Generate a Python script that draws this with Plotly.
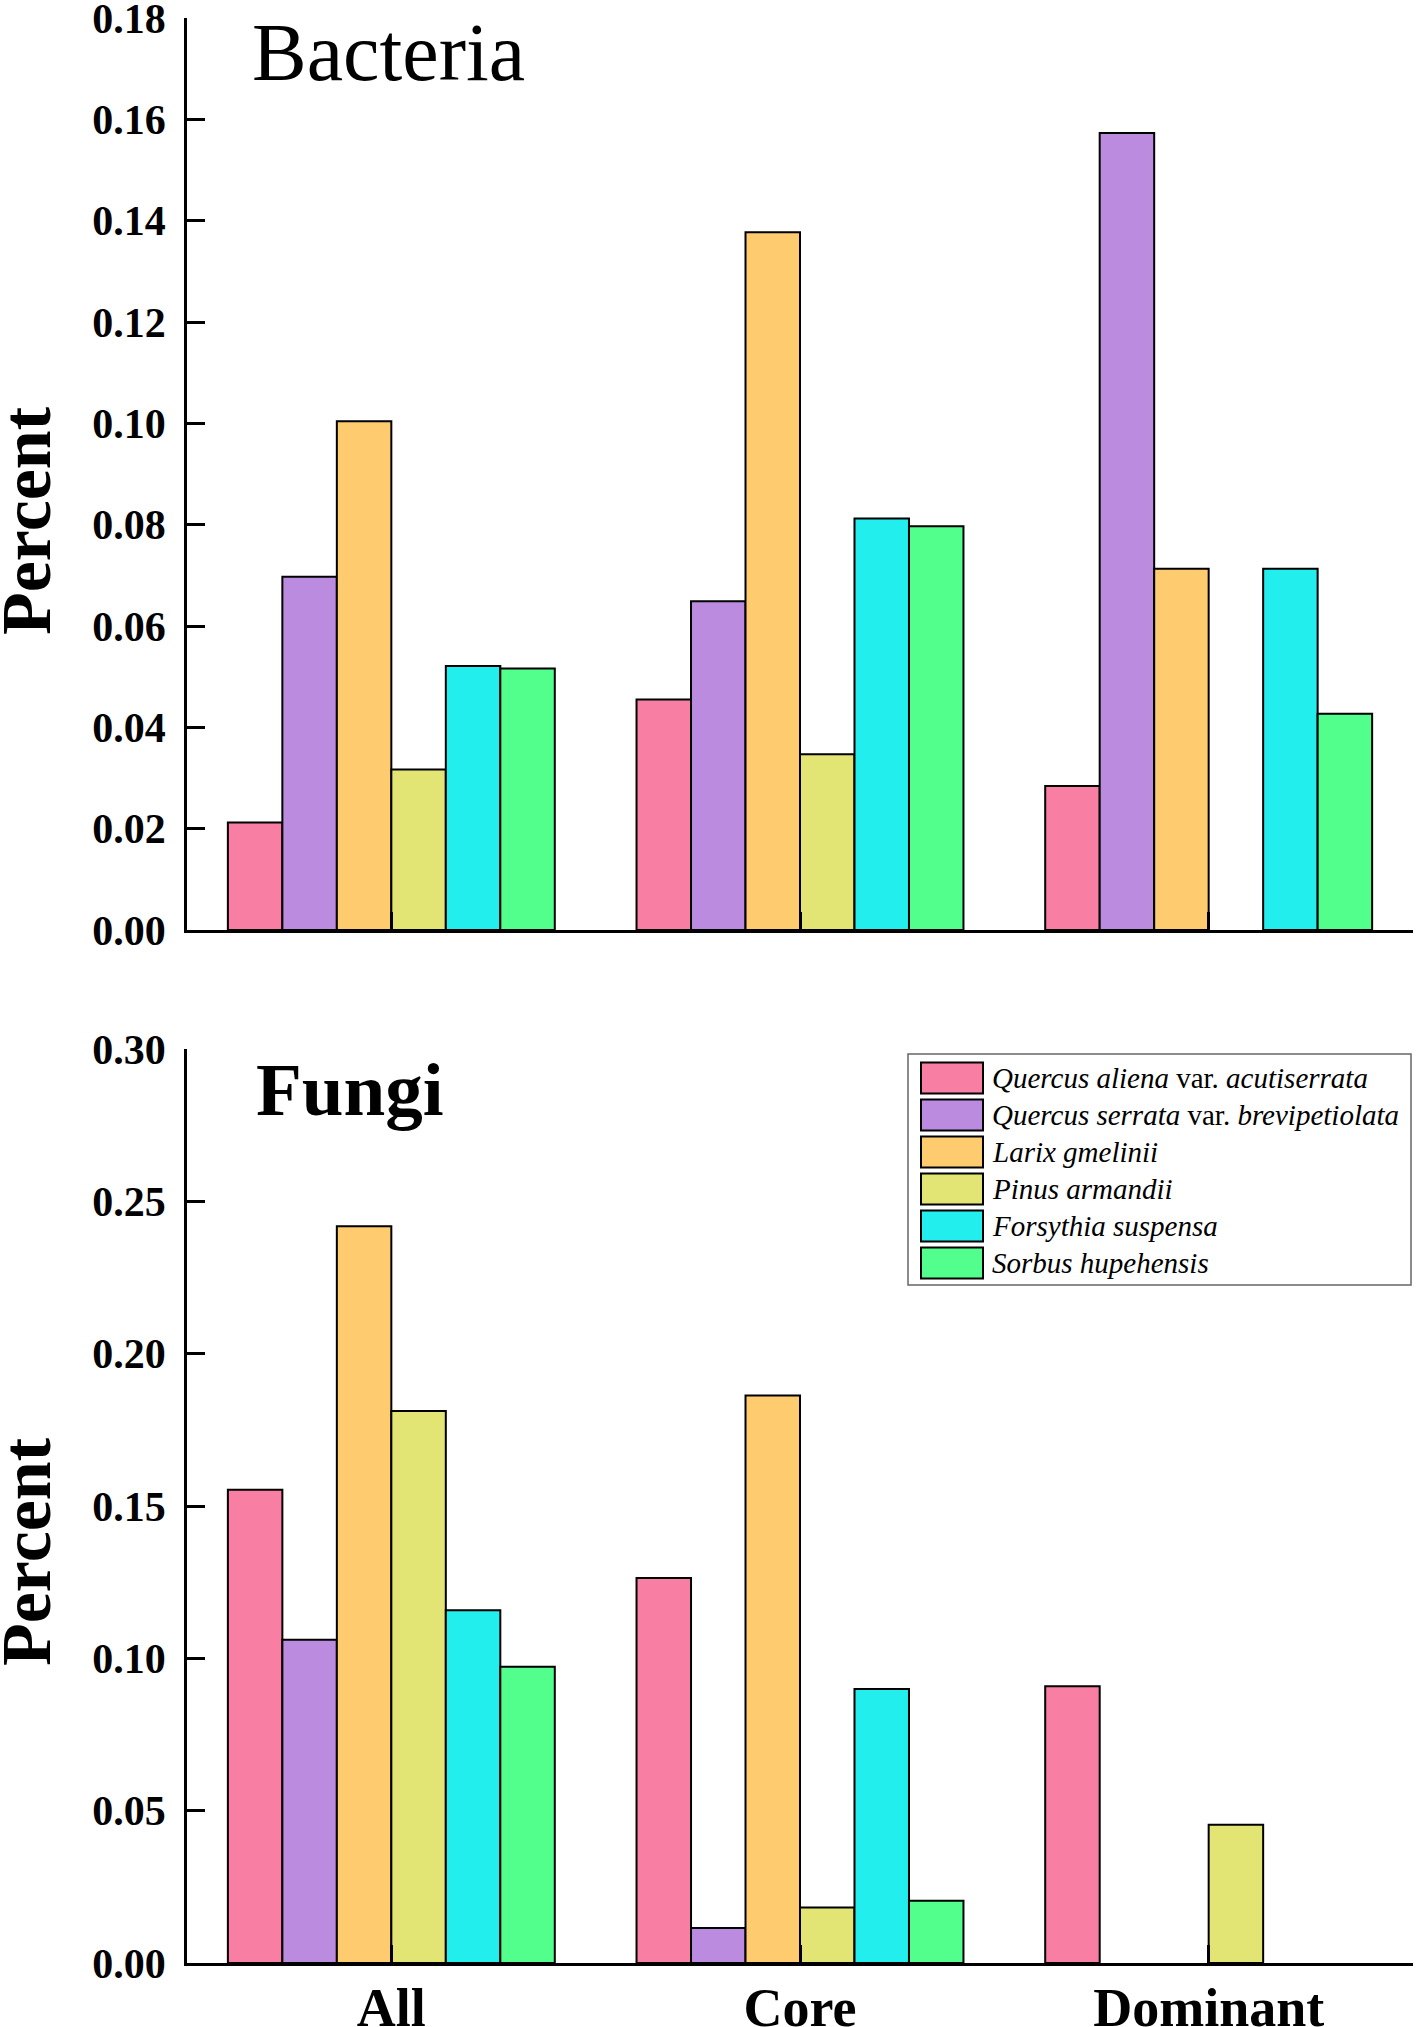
import plotly.graph_objects as go

categories = ["All", "Core", "Dominant"]
species_labels = [
    "<i>Quercus aliena</i> var. <i>acutiserrata</i>",
    "<i>Quercus serrata</i> var. <i>brevipetiolata</i>",
    "<i>Larix gmelinii</i>",
    "<i>Pinus armandii</i>",
    "<i>Forsythia suspensa</i>",
    "<i>Sorbus hupehensis</i>",
]
colors = ["#F87EA4", "#BB8BE0", "#FECB6E", "#E2E473", "#22EEEE", "#52FF8D"]

# Bacteria values per category (order of species above)
bacteria_all = [0.0212, 0.0697, 0.1004, 0.0317, 0.0521, 0.0516]
bacteria_core = [0.0455, 0.0649, 0.1377, 0.0347, 0.0812, 0.0797]
bacteria_dominant = [0.0284, 0.1573, 0.0713, None, 0.0713, 0.0427]

# Fungi values per category
fungi_all = [0.1553, 0.1061, 0.2418, 0.1812, 0.1158, 0.0972]
fungi_core = [0.1264, 0.0115, 0.1863, 0.0182, 0.0899, 0.0204]
fungi_dominant = [0.0908, None, None, 0.0454, None, None]

# page body margin is removed by the post script, so the figure fills the window
W, H = 1416, 2027
X_LEFT, X_RIGHT, Y_TOP, Y_BOT = 187, 1413, 18, 1963  # window pixels of plot area
ML, MR = X_LEFT, W - X_RIGHT
MT, MB = Y_TOP, H - Y_BOT
PW, PH = W - ML - MR, H - MT - MB


def xp(px):
    return (px - X_LEFT) / PW


def yp(py):
    return (Y_BOT - py) / PH


SERIF = "Liberation Serif, Times New Roman, serif"

fig = go.Figure()
for i, lab in enumerate(species_labels):
    b = [bacteria_all[i], bacteria_core[i], bacteria_dominant[i]]
    f = [fungi_all[i], fungi_core[i], fungi_dominant[i]]
    fig.add_trace(go.Bar(x=categories, y=b, name=lab, xaxis="x", yaxis="y",
                         marker=dict(color=colors[i], line=dict(color="black", width=2)),
                         showlegend=False))
    fig.add_trace(go.Bar(x=categories, y=f, name=lab, xaxis="x2", yaxis="y2",
                         marker=dict(color=colors[i], line=dict(color="black", width=2)),
                         showlegend=False))

top_dom = [yp(930), 1.0]
bot_dom = [0.0, yp(1049)]

common_x = dict(type="category", range=[-0.5, 2.5], showline=True, linecolor="black",
                linewidth=2.5, ticks="inside", ticklen=18, tickwidth=2.5, tickcolor="black",
                showgrid=False, zeroline=False, domain=[0, 1], automargin=False,
                ticklabeloverflow="allow")
common_y = dict(showline=True, linecolor="black", linewidth=2.5, ticks="inside",
                ticklen=18, tickwidth=2.5, tickcolor="black", showgrid=False,
                zeroline=False, tickformat=".2f", tick0=0, automargin=False,
                ticklabeloverflow="allow", ticklabelstandoff=10,
                tickfont=dict(family=SERIF, size=42, color="black", weight="bold"))

fig.update_layout(
    width=W, height=H,
    margin=dict(l=ML, r=MR, t=MT, b=MB),
    paper_bgcolor="white", plot_bgcolor="white",
    barmode="group", bargap=0.2, bargroupgap=0,
    xaxis=dict(**common_x, anchor="y", showticklabels=False),
    yaxis=dict(**common_y, domain=top_dom, range=[0, 0.18], dtick=0.02, anchor="x"),
    xaxis2=dict(**common_x, anchor="y2", showticklabels=True, ticklabelstandoff=-5,
                tickfont=dict(family=SERIF, size=54, color="black", weight="bold")),
    yaxis2=dict(**common_y, domain=bot_dom, range=[0, 0.30], dtick=0.05, anchor="x2"),
)

annotations = [
    dict(text="Percent", textangle=-90, x=xp(26), y=yp(521), xref="paper", yref="paper",
         xanchor="center", yanchor="middle", showarrow=False,
         font=dict(family=SERIF, size=70, color="black", weight="bold")),
    dict(text="Percent", textangle=-90, x=xp(26), y=yp(1552), xref="paper", yref="paper",
         xanchor="center", yanchor="middle", showarrow=False,
         font=dict(family=SERIF, size=70, color="black", weight="bold")),
    dict(text="Bacteria", x=xp(250), y=yp(52), xref="paper", yref="paper", xanchor="left",
         yanchor="middle", showarrow=False, font=dict(family=SERIF, size=82, color="black")),
    dict(text="Fungi", x=xp(254), y=yp(1089), xref="paper", yref="paper", xanchor="left",
         yanchor="middle", showarrow=False,
         font=dict(family=SERIF, size=75, color="black", weight="bold")),
]

shapes = [dict(type="rect", xref="paper", yref="paper", x0=xp(908), x1=xp(1411),
               y0=yp(1285), y1=yp(1054), line=dict(color="#666666", width=1.5),
               fillcolor="white", layer="above")]
for i, lab in enumerate(species_labels):
    cy = 1078 + i * 37
    shapes.append(dict(type="rect", xref="paper", yref="paper", x0=xp(921), x1=xp(983),
                       y0=yp(cy + 15.5), y1=yp(cy - 15.5), fillcolor=colors[i],
                       line=dict(color="black", width=2), layer="above"))
    annotations.append(dict(text=lab, x=xp(990), y=yp(cy), xref="paper", yref="paper",
                            xanchor="left", yanchor="middle", showarrow=False,
                            font=dict(family=SERIF, size=29, color="black")))

fig.update_layout(annotations=annotations, shapes=shapes)
fig.write_html("out.html", config={"displayModeBar": False},
               post_script="document.body.style.margin='0';")
